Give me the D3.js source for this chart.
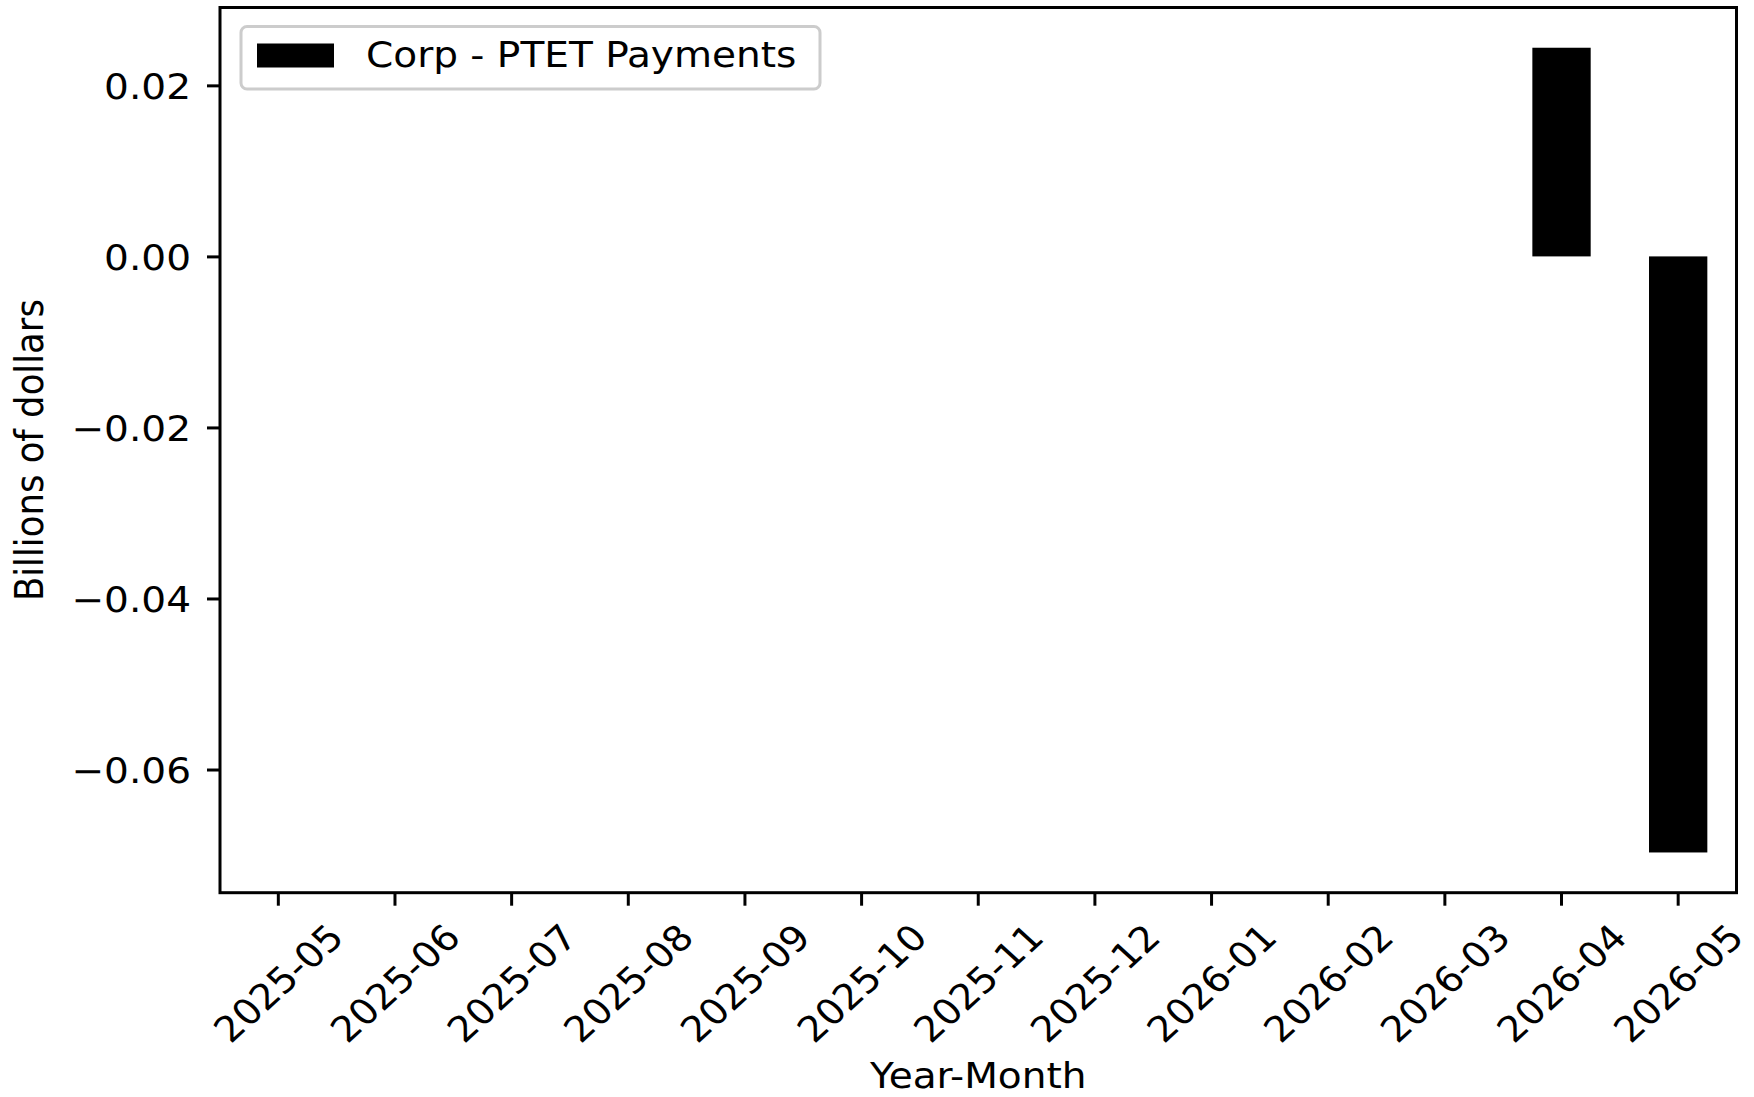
<!DOCTYPE html>
<html>
<head>
<meta charset="utf-8">
<script src="https://cdn.jsdelivr.net/npm/d3@7"></script>
<style>
  html, body { margin: 0; padding: 0; background: #fff; }
  svg { display: block; }
  text { font-family: "DejaVu Sans", sans-serif; fill: #000; }
</style>
</head>
<body>
<script>
// ---- data ----
const categories = ["2025-05","2025-06","2025-07","2025-08","2025-09","2025-10","2025-11","2025-12","2026-01","2026-02","2026-03","2026-04","2026-05"];
const seriesName = "Corp - PTET Payments";
const values = [0, 0, 0, 0, 0, 0, 0, 0, 0, 0, 0, 0.0244, -0.0697];
const yTicks = [-0.06, -0.04, -0.02, 0.00, 0.02];
const xLabel = "Year-Month";
const yLabel = "Billions of dollars";

// ---- layout ----
const W = 1754, H = 1097;
const m = { left: 220, right: 17.5, top: 7.5, bottom: 204.3 };
const fs = 35.5;   // font size
const sx = 1.1;    // horizontal stretch of glyphs in the reference

const svg = d3.select("body").append("svg").attr("width", W).attr("height", H);

const x = d3.scaleBand().domain(categories)
  .range([m.left, W - m.right]).paddingInner(0.5).paddingOuter(0.25);

const vmin = Math.min(0, d3.min(values)), vmax = Math.max(0, d3.max(values));
const pad = (vmax - vmin) * 0.05;
const y = d3.scaleLinear().domain([vmin - pad, vmax + pad]).range([H - m.bottom, m.top]);

// helper: stretched text anchored at (px,py)
function stext(parent, px, py, str, anchor, extra) {
  const g = parent.append("g").attr("transform", `translate(${px},${py}) scale(${sx},1)`);
  const t = g.append("text").attr("x", 0).attr("y", 0)
    .attr("text-anchor", anchor).attr("font-size", fs).text(str);
  if (extra) extra(t);
  return t;
}

// bars
svg.append("g").selectAll("rect").data(values).join("rect")
  .attr("x", (d, i) => x(categories[i]))
  .attr("width", x.bandwidth())
  .attr("y", d => y(Math.max(0, d)))
  .attr("height", d => Math.abs(y(d) - y(0)))
  .attr("fill", "#000");

// y axis
const fmt = v => (v < 0 ? "\u2212" : "") + Math.abs(v).toFixed(2);
const gy = svg.append("g").attr("transform", `translate(${m.left},0)`)
  .call(d3.axisLeft(y).tickValues(yTicks).tickFormat("").tickSize(13));
gy.select(".domain").remove();
gy.selectAll(".tick line").attr("stroke", "#000").attr("stroke-width", 3);
gy.selectAll(".tick").each(function(d) {
  stext(d3.select(this), -29, 0, fmt(d), "end", t => t.attr("dy", "0.36em"));
});

// x axis
const gx = svg.append("g").attr("transform", `translate(0,${H - m.bottom})`)
  .call(d3.axisBottom(x).tickSize(13).tickFormat(""));
gx.select(".domain").remove();
gx.selectAll(".tick line").attr("stroke", "#000").attr("stroke-width", 3);

const labelCY = 983 - (H - m.bottom);
gx.selectAll(".tick").each(function(d) {
  stext(d3.select(this), 0, labelCY, d, "middle", t => t.attr("dy", "0.36em").attr("transform", "rotate(-45)"));
});

// frame
svg.append("rect")
  .attr("x", m.left).attr("y", m.top)
  .attr("width", W - m.left - m.right).attr("height", H - m.top - m.bottom)
  .attr("fill", "none").attr("stroke", "#000").attr("stroke-width", 3);

// axis labels
stext(svg, (m.left + W - m.right) / 2, 1088, xLabel, "middle");
stext(svg, 43, (m.top + H - m.bottom) / 2, yLabel, "middle", t => t.attr("transform", "rotate(-90)"));

// legend
const lg = svg.append("g");
lg.append("rect").attr("x", 241).attr("y", 26.5).attr("width", 579).attr("height", 62.5)
  .attr("rx", 6).attr("ry", 6)
  .attr("fill", "#fff").attr("fill-opacity", 0.8)
  .attr("stroke", "#cccccc").attr("stroke-width", 3);
lg.append("rect").attr("x", 257).attr("y", 43.5).attr("width", 77).attr("height", 24)
  .attr("fill", "#000");
stext(lg, 366, 66.5, seriesName, "start");
</script>
</body>
</html>
